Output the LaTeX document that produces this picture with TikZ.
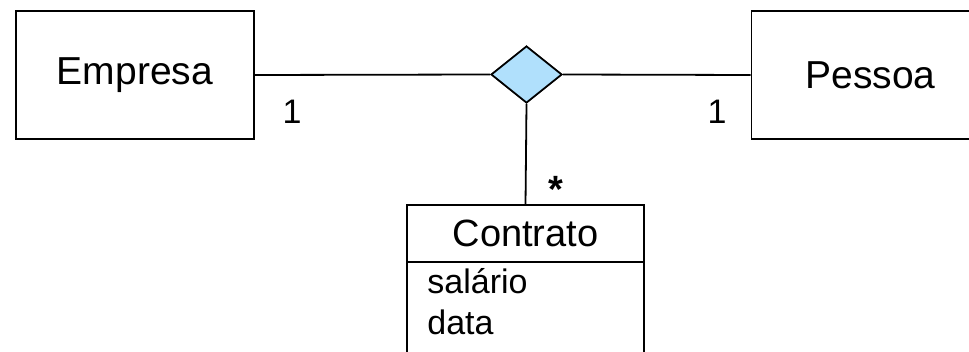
\documentclass[tikz,border=0pt]{standalone}
\usepackage{fontspec}
\setmainfont{Liberation Sans}
\usetikzlibrary{shapes.geometric}
\definecolor{assocfill}{RGB}{176,224,252}
\tikzset{
  uml/.style={line width=0.9pt, black},
  classbox/.style={uml, draw, rectangle, inner sep=0pt,
    minimum width=119pt, minimum height=64pt, font=\fontsize{19.5}{23}\selectfont},
  assoc/.style={uml, draw, diamond, fill=assocfill, inner sep=0pt,
    minimum width=35.5pt, minimum height=28.5pt},
  mult/.style={font=\fontsize{17}{20}\selectfont, anchor=base, inner sep=0pt},
  attr/.style={anchor=base west, inner sep=0pt, font=\fontsize{17}{20}\selectfont},
  link/.style={uml}
}
\begin{document}
\begin{tikzpicture}[x=0.5pt, y=-0.5pt]
  \useasboundingbox (0,0) rectangle (969,352);
  \clip (0,0) rectangle (969,352);

  % classes
  \node[classbox] (empresa) at (135,75) {Empresa};
  \node[classbox] (pessoa)  at (870.5,75) {Pessoa};

  % ternary association diamond
  \node[assoc] (rel) at (526.5,74.5) {};

  % association class Contrato: name compartment, then the open attribute compartment
  \node[uml, draw, rectangle, inner sep=0pt, outer sep=0pt, minimum width=118.5pt,
        minimum height=28.5pt, font=\fontsize{19}{23}\selectfont] (contrato) at (525.5,233.5) {Contrato};
  \coordinate (attrsw) at ([yshift=-60pt]contrato.south west);
  \coordinate (attrse) at ([yshift=-60pt]contrato.south east);
  \draw[uml] (contrato.south west) -- (attrsw);
  \draw[uml] (contrato.south east) -- (attrse);
  \node[attr] (sal) at (427,293) {salário};
  \node[attr] (dat) at (427,335) {data};

  % connectors
  \draw[link] (empresa.east) -- (rel.west);
  \draw[link] (rel.east) -- (pessoa.west);
  \draw[link] (rel.south) -- (contrato.north);

  % multiplicities
  \node[mult] (m1) at (292,124) {1};
  \node[mult] (m2) at (717,124) {1};
  \node[mult, font=\fontsize{19}{22}\selectfont\bfseries] (m3) at (555.5,203) {*};
\end{tikzpicture}
\end{document}
